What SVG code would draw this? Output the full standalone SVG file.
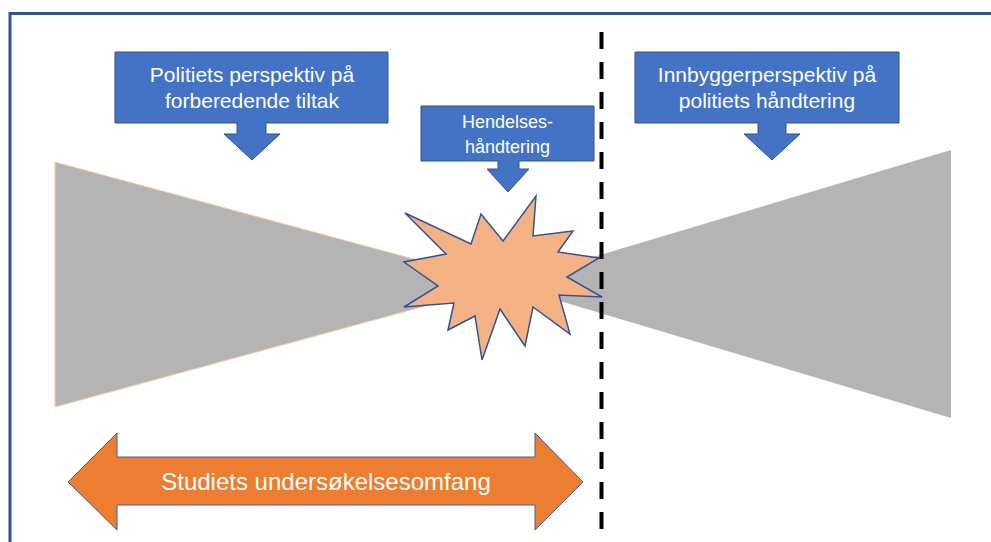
<svg xmlns="http://www.w3.org/2000/svg" width="991" height="542" viewBox="0 0 991 542">
<style>
.lbl{font-family:"Liberation Sans",Arial,sans-serif;fill:#ffffff;text-anchor:middle}
.callout{fill:#4472C4;stroke:#2F528F;stroke-width:1}
.cone{fill:#B4B4B4}
</style>
<rect width="991" height="542" fill="#ffffff"/>
<g id="frame">
<path d="M10,542 V13.5 H991" fill="none" stroke="#2F5597" stroke-width="3"/>
</g>
<g id="cone-left">
<polygon class="cone" points="55,162 55,407 506,284" stroke="#F8CBAD" stroke-width="1"/>
</g>
<g id="cone-right">
<polygon class="cone" points="951,150 951,418 503,284"/>
</g>
<g id="event-star">
<polygon points="405,213 471,244 481,214 503,241 536,196 533,236 573,231 558,252 599,258 567,277 602,297 559,295 570,334 533,307 525,346 500,309 482,360 475,316 448,330 454,303 404,307 438,286 404,262 446,254" fill="#F4B183" stroke="#2F5597" stroke-width="1.5" stroke-linejoin="miter"/>
</g>
<g id="callout-police">
<path class="callout" d="M115,52 H388 V123 H266 V134 H280 L252,160 L224,134 H237 V123 H115 Z"/>
<text class="lbl" x="252" y="82" font-size="21">Politiets perspektiv på</text>
<text class="lbl" x="252" y="108" font-size="21">forberedende tiltak</text>
</g>
<g id="callout-event">
<path class="callout" d="M421,106 H594 V161 H519 V169 H529 L508,192 L487,169 H498 V161 H421 Z"/>
<text class="lbl" x="507.5" y="127.5" font-size="18">Hendelses-</text>
<text class="lbl" x="507.5" y="153" font-size="18">håndtering</text>
</g>
<g id="callout-citizen">
<path class="callout" d="M635,52 H899 V123 H786 V134 H800 L772,160 L744,134 H758 V123 H635 Z"/>
<text class="lbl" x="767" y="82" font-size="21">Innbyggerperspektiv på</text>
<text class="lbl" x="767" y="108" font-size="21">politiets håndtering</text>
</g>
<g id="connectors">
<line x1="601.5" y1="32" x2="601.5" y2="542" stroke="#000000" stroke-width="4" stroke-dasharray="17 13"/>
</g>
<g id="scope-arrow">
<polygon points="68,482 117,433 117,457 535,457 535,433 583,482 535,530 535,505 117,505 117,530" fill="#ED7D31" stroke="#41609C" stroke-width="1"/>
<text class="lbl" x="326" y="490" font-size="24">Studiets undersøkelsesomfang</text>
</g>
</svg>
